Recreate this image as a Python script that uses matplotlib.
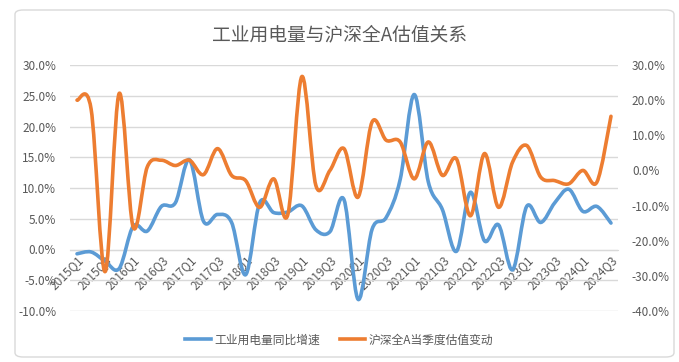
#!/usr/bin/env python3
"""Industrial power consumption YoY vs. CSI All-A valuation change, quarterly."""
import matplotlib
matplotlib.use("Agg")
import matplotlib.pyplot as plt
from matplotlib.path import Path
from matplotlib.patches import PathPatch, FancyBboxPatch
from matplotlib.lines import Line2D
from matplotlib.ticker import FuncFormatter, MultipleLocator

plt.rcParams["font.family"] = ["Noto Sans CJK SC", "DejaVu Sans"]

QUARTERS = [f"{y}Q{q}" for y in range(2015, 2025) for q in range(1, 5)][:39]

# 工业用电量同比增速 (%), left axis
ELEC_YOY = [-0.7, -0.4, -1.9, -3.1, 3.8, 3.0, 7.0, 7.6, 14.6, 4.6,
            5.7, 4.4, -4.1, 7.6, 6.0, 6.1, 7.1, 3.2, 2.9, 8.1,
            -8.1, 3.3, 5.2, 11.4, 25.2, 11.0, 6.5, -0.3, 9.3, 1.4,
            4.0, -3.3, 7.0, 4.4, 7.6, 9.8, 6.2, 7.0, 4.3]

# 沪深全A当季度估值变动 (%), right axis
VAL_CHG = [20.0, 17.5, -28.8, 21.9, -16.2, 1.0, 2.9, 1.4, 2.9, -1.2,
           6.2, -1.4, -2.9, -10.5, -2.4, -12.6, 26.7, -4.3, 0.0, 6.2,
           -7.6, 13.8, 8.6, 8.1, -2.4, 8.1, -1.4, 3.3, -12.9, 4.8,
           -10.5, 2.4, 7.1, -1.9, -2.9, -3.8, 0.0, -3.3, 15.4]

BLUE = "#5B9BD5"
ORANGE = "#ED7D31"
GREY = "#595959"
GRID = "#D9D9D9"


def smooth_path(ys):
    """Excel-style smoothed line: Catmull-Rom segments as cubic Beziers."""
    pts = list(enumerate(ys))
    verts = [pts[0]]
    codes = [Path.MOVETO]
    n = len(pts)
    for i in range(n - 1):
        p0 = pts[max(i - 1, 0)]
        p1 = pts[i]
        p2 = pts[i + 1]
        p3 = pts[min(i + 2, n - 1)]
        c1 = (p1[0] + (p2[0] - p0[0]) / 6, p1[1] + (p2[1] - p0[1]) / 6)
        c2 = (p2[0] - (p3[0] - p1[0]) / 6, p2[1] - (p3[1] - p1[1]) / 6)
        verts += [c1, c2, p2]
        codes += [Path.CURVE4] * 3
    return Path(verts, codes)


fig = plt.figure(figsize=(6.79, 3.62), dpi=100)
fig.patches.append(FancyBboxPatch((15 / 679, 5 / 362), 659 / 679, 347 / 362,
                                  boxstyle="round,pad=0,rounding_size=0.012",
                                  transform=fig.transFigure, fill=False,
                                  edgecolor=GRID, linewidth=1))

ax = fig.add_axes([70 / 679, 51 / 362, 548 / 679, 246 / 362])
ax2 = ax.twinx()

ax.add_patch(PathPatch(smooth_path(ELEC_YOY), fill=False, edgecolor=BLUE,
                       linewidth=2.6, capstyle="round", joinstyle="round", zorder=3))
ax2.add_patch(PathPatch(smooth_path(VAL_CHG), fill=False, edgecolor=ORANGE,
                        linewidth=2.6, capstyle="round", joinstyle="round", zorder=3))

ax.set_xlim(-0.5, len(QUARTERS) - 0.5)
ax.set_ylim(-10, 30)
ax2.set_ylim(-40, 30)
ax.yaxis.set_major_locator(MultipleLocator(5))
ax2.yaxis.set_major_locator(MultipleLocator(10))
pct = FuncFormatter(lambda v, _: f"{v:.1f}%")
ax.yaxis.set_major_formatter(pct)
ax2.yaxis.set_major_formatter(pct)

ax.grid(axis="y", color=GRID, linewidth=1)
ax.set_axisbelow(True)
for a in (ax, ax2):
    for s in a.spines.values():
        s.set_visible(False)
    a.tick_params(axis="y", length=0, labelsize=8.5, labelcolor=GREY, pad=10)

# category axis crosses at 0 on the left scale
ax.spines["bottom"].set_visible(True)
ax.spines["bottom"].set_position(("data", 0))
ax.spines["bottom"].set_color(GRID)
ax.set_xticks(range(0, len(QUARTERS), 2))
ax.set_xticklabels(QUARTERS[::2], rotation=45, ha="right",
                   rotation_mode="anchor")
ax.tick_params(axis="x", length=0, labelsize=8.5, labelcolor=GREY, pad=3)

fig.text(0.5, 0.903, "工业用电量与沪深全A估值关系", ha="center", va="center",
         fontsize=13.5, color=GREY)

handles = [Line2D([], [], color=BLUE, linewidth=2.6),
           Line2D([], [], color=ORANGE, linewidth=2.6)]
fig.legend(handles, ["工业用电量同比增速", "沪深全A当季度估值变动"],
           loc="center", bbox_to_anchor=(0.5, 0.061), ncol=2, frameon=False,
           fontsize=8.5, labelcolor=GREY, handlelength=2.2,
           handletextpad=0.3, columnspacing=1.6)

fig.savefig("out.png", dpi=100)
